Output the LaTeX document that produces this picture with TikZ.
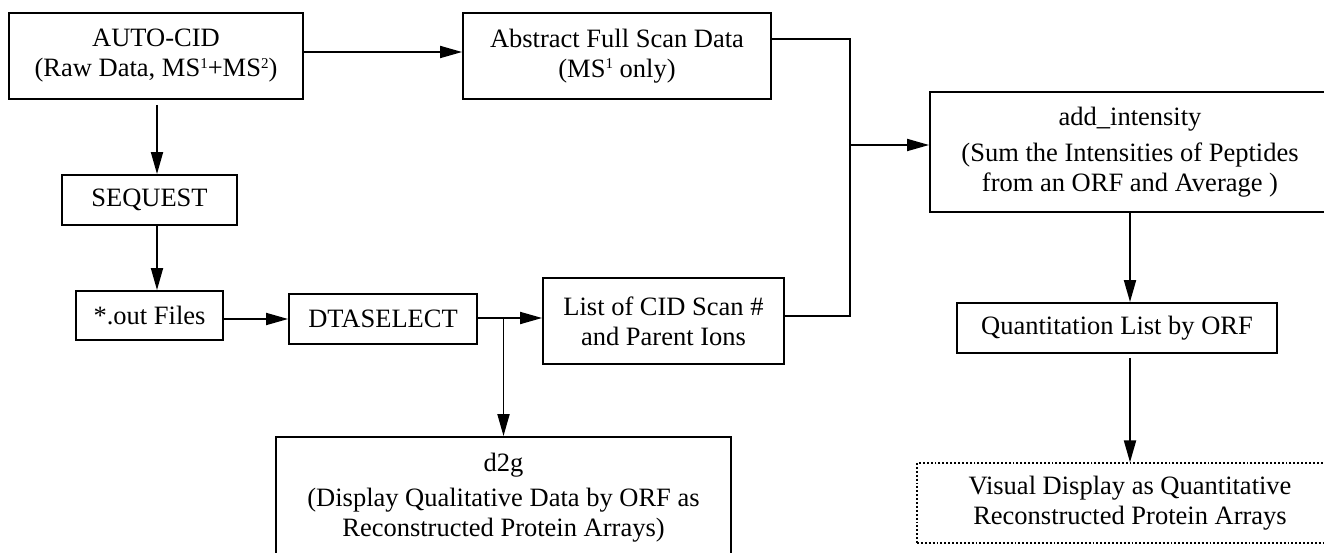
\documentclass[tikz,border=0pt]{standalone}
\usepackage{fontspec}
\setmainfont{Liberation Serif}
\usetikzlibrary{arrows.meta}
\newcommand{\sups}[1]{\raisebox{0.7ex}{\fontsize{15}{15}\selectfont #1}}
\begin{document}
\begin{tikzpicture}[x=1pt,y=-1pt,
  box/.style={draw,line width=1.9pt,inner sep=0pt,align=center,
    font=\fontsize{26.5}{30}\selectfont},
  arr/.style={line width=1.9pt,-{Triangle[length=22pt,width=12pt]}},
  ln/.style={line width=1.9pt}]
\useasboundingbox (0,0) rectangle (1324,553);
\clip (0,0) rectangle (1324,553);
\node[box,minimum width=294pt,minimum height=86pt] (auto) at (156,56)
  {AUTO-CID\\(Raw Data, MS\sups{1}+MS\sups{2})};
\node[box,minimum width=308pt,minimum height=86pt] (abs) at (617,56)
  {Abstract Full Scan Data\\(MS\sups{1} only)};
\node[box,minimum width=175pt,minimum height=50pt] (seq) at (149.5,200) {SEQUEST};
\node[box,minimum width=147pt,minimum height=49pt] (out) at (149.5,315.5) {*.out Files};
\node[box,minimum width=188pt,minimum height=50pt] (dta) at (383,319) {DTASELECT};
\node[box,minimum width=241pt,minimum height=86pt] (list) at (663.5,321)
  {List of CID Scan \#\\and Parent Ions};
\node[box,minimum width=455pt,minimum height=121pt] (d2g) at (503.5,497.5)
  {d2g\\[5pt](Display Qualitative Data by ORF as\\Reconstructed Protein Arrays)};
\node[box,minimum width=400pt,minimum height=120pt] (add) at (1130,152)
  {add\_intensity\\[6pt](Sum the Intensities of Peptides\\from an ORF and Average )};
\node[box,minimum width=320pt,minimum height=50pt] (quant) at (1117,328)
  {Quantitation List by ORF};
\node[box,dotted,line width=1.2pt,minimum width=426pt,minimum height=80pt] (vis) at (1130,503)
  {Visual Display as Quantitative\\Reconstructed Protein Arrays};
\coordinate (j) at (850,145);
\draw[arr] ([yshift=4pt]auto.east) -- ([yshift=4pt]abs.west);
\draw[arr,shorten <=5pt] ([xshift=1pt]auto.south) -- ([xshift=1pt]auto.south |- seq.north);
\draw[arr] ([xshift=1pt]auto.south |- seq.south) -- ([xshift=1pt]auto.south |- out.north);
\draw[arr] (dta.west -| out.east) -- (dta.west);
\draw[arr] ([yshift=1pt]dta.east) -- ([yshift=1pt]dta.east -| list.west);
\draw[arr] ([yshift=1pt]dta.east -| d2g.north) -- (d2g.north);
\draw[ln] ([yshift=17pt]abs.east) -| (j) |- ([yshift=5pt]list.east);
\draw[arr] (j) -- (j -| add.west);
\draw[arr] (add.south) -- (add.south |- quant.north);
\draw[arr,shorten <=4pt] (add.south |- quant.south) -- (vis.north);
\end{tikzpicture}
\end{document}
